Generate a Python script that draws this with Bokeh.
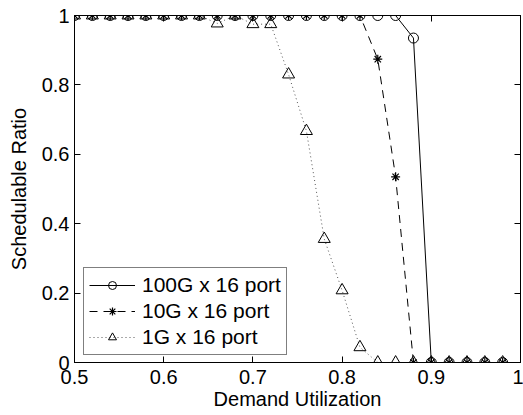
from bokeh.plotting import figure
from bokeh.models import FixedTicker, LinearAxis, Range1d, Legend, LegendItem
from bokeh.embed import file_html
from bokeh.resources import INLINE

x = [0.50, 0.52, 0.54, 0.56, 0.58, 0.60, 0.62, 0.64, 0.66, 0.68, 0.70, 0.72, 0.74,
     0.76, 0.78, 0.80, 0.82, 0.84, 0.86, 0.88, 0.90, 0.92, 0.94, 0.96, 0.98]
y_100g = [1, 1, 1, 1, 1, 1, 1, 1, 1, 1, 1, 1, 1,
          1, 1, 1, 1, 1, 1, 0.935, 0, 0, 0, 0, 0]
y_10g = [1, 1, 1, 1, 1, 1, 1, 1, 1, 1, 1, 1, 1,
         1, 1, 1, 1, 0.874, 0.535, 0, 0, 0, 0, 0, 0]
y_1g = [1, 1, 1, 1, 1, 1, 1, 1, 0.977, 1, 0.975, 0.975, 0.83,
        0.667, 0.356, 0.208, 0.044, 0, 0, 0, 0, 0, 0, 0, 0]
labels = ["100G x 16 port", "10G x 16 port", "1G x 16 port"]
x_ticks = [0.5, 0.6, 0.7, 0.8, 0.9, 1.0]
x_tick_labels = ["0.5", "0.6", "0.7", "0.8", "0.9", "1"]
y_ticks = [0, 0.2, 0.4, 0.6, 0.8, 1.0]
y_tick_labels = ["0", "0.2", "0.4", "0.6", "0.8", "1"]

FONT = "Liberation Sans"

p = figure(width=523, height=415, output_backend="svg", toolbar_location=None,
           x_range=Range1d(0.5, 1.0), y_range=Range1d(0, 1.0),
           min_border_left=74, min_border_right=3, min_border_top=15, min_border_bottom=53)
p.xgrid.visible = False
p.ygrid.visible = False
p.outline_line_color = "black"
p.outline_line_width = 1
p.background_fill_color = "white"
p.border_fill_color = "white"

r1l = p.line(x, y_100g, line_color="black", line_width=1)
r1m = p.scatter(x, y_100g, marker="circle", size=10, fill_color=None, line_color="black", line_width=1)
r2l = p.line(x, y_10g, line_color="black", line_width=1, line_dash="8 6")
r2m = p.scatter(x, y_10g, marker="asterisk", size=9, line_color="black", line_width=1.2)
r3l = p.line(x, y_1g, line_color="#555555", line_width=1, line_dash="1 3")
r3m = p.scatter(x, y_1g, marker="triangle", size=12, fill_color=None, line_color="black", line_width=1)

def style(ax, ticks, tlabels, show_labels=True):
    ax.ticker = FixedTicker(ticks=ticks)
    ax.major_label_overrides = {t: l for t, l in zip(ticks, tlabels)}
    ax.minor_tick_line_color = None
    ax.major_tick_in = 6
    ax.major_tick_out = 0
    ax.axis_line_color = "black"
    ax.major_tick_line_color = "black"
    ax.major_label_text_font = FONT
    ax.major_label_text_font_size = "20px"
    ax.major_label_text_color = "black"
    ax.axis_label_text_font = FONT
    ax.axis_label_text_font_size = "20px"
    ax.axis_label_text_font_style = "normal"
    ax.axis_label_text_color = "black"
    if not show_labels:
        ax.major_label_text_color = None

style(p.xaxis[0], x_ticks, x_tick_labels)
style(p.yaxis[0], y_ticks, y_tick_labels)
p.xaxis[0].axis_label = "Demand Utilization"
p.yaxis[0].axis_label = "Schedulable Ratio"
p.xaxis[0].major_label_standoff = 7
p.yaxis[0].major_label_standoff = 5
p.xaxis[0].axis_label_standoff = 1
p.yaxis[0].axis_label_standoff = 9

top = LinearAxis()
right = LinearAxis()
style(top, x_ticks, x_tick_labels, False)
style(right, y_ticks, y_tick_labels, False)
p.add_layout(top, "above")
p.add_layout(right, "right")

legend = Legend(items=[
    LegendItem(label=labels[0], renderers=[r1l, r1m]),
    LegendItem(label=labels[1], renderers=[r2l, r2m]),
    LegendItem(label=labels[2], renderers=[r3l, r3m]),
], location=(9, 7))
legend.label_text_font = FONT
legend.label_text_font_size = "21px"
legend.label_text_color = "black"
legend.border_line_color = "black"
legend.border_line_width = 1
legend.background_fill_alpha = 1
legend.glyph_width = 46
legend.glyph_height = 20
legend.label_standoff = 7
legend.spacing = 2
legend.padding = 5
legend.margin = 0
legend.label_height = 20
p.add_layout(legend)

open("out.html", "w").write(file_html(p, INLINE))
